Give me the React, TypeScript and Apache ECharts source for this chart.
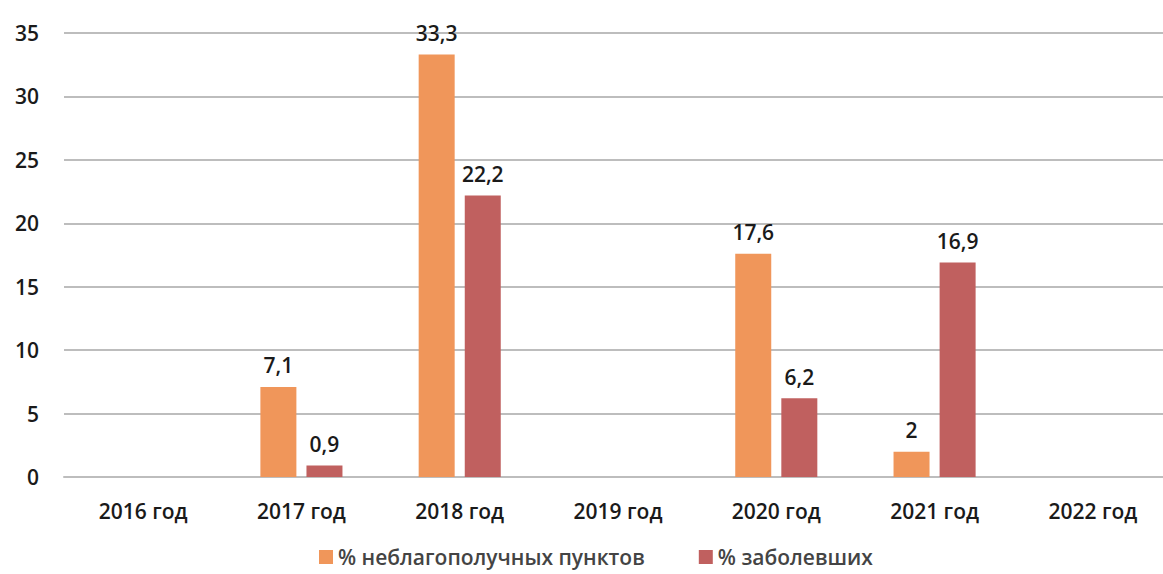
import React, { useEffect, useRef } from "react";
import * as echarts from "echarts";

const categories = ["2016 год", "2017 год", "2018 год", "2019 год", "2020 год", "2021 год", "2022 год"];
const seriesNames = ["% неблагополучных пунктов", "% заболевших"];
const pointsShare: (number | null)[] = [null, 7.1, 33.3, null, 17.6, 2, null];
const sickShare: (number | null)[] = [null, 0.9, 22.2, null, 6.2, 16.9, null];
const colors = ["#F0965A", "#C0605F"];

const FONT = "'Open Sans', 'Noto Sans', sans-serif";

export default function App() {
  const ref = useRef<HTMLDivElement>(null);
  useEffect(() => {
    document.body.style.margin = "0";
    document.body.style.overflow = "hidden";
    const chart = echarts.init(ref.current!, null, { renderer: "svg" });
    const label = {
      show: true,
      position: "top",
      distance: 11,
      color: "#1a1a1a",
      fontSize: 21,
      fontWeight: 600,
      fontFamily: FONT,
      formatter: (p: any) => String(p.value).replace(".", ","),
    };
    chart.setOption({
      animation: false,
      backgroundColor: "#fff",
      color: colors,
      textStyle: { fontFamily: FONT },
      grid: { left: 64, right: 0, top: 33, bottom: 97 },
      legend: {
        top: 544,
        left: 319,
        padding: 0,
        itemWidth: 14,
        itemHeight: 14,
        itemGap: 54,
        icon: "rect",
        textStyle: { color: "#444", fontSize: 21, fontWeight: 600, fontFamily: FONT, lineHeight: 26 },
        data: seriesNames,
      },
      xAxis: {
        type: "category",
        data: categories,
        axisTick: { show: false },
        axisLine: { lineStyle: { color: "#BDBDBD", width: 2 } },
        axisLabel: { color: "#1a1a1a", fontSize: 21, fontWeight: 600, fontFamily: FONT, margin: 23 },
      },
      yAxis: {
        type: "value",
        min: 0,
        max: 35,
        interval: 5,
        axisLine: { show: false },
        axisTick: { show: false },
        splitLine: { lineStyle: { color: "#BDBDBD", width: 2 } },
        axisLabel: { color: "#1a1a1a", fontSize: 21, fontWeight: 600, fontFamily: FONT, margin: 25 },
      },
      series: [
        { name: seriesNames[0], type: "bar", data: pointsShare, barWidth: 36, barGap: "28%", label },
        { name: seriesNames[1], type: "bar", data: sickShare, barWidth: 36, barGap: "28%", label },
      ],
    });
    return () => chart.dispose();
  }, []);
  return <div ref={ref} style={{ width: 1172, height: 574 }} />;
}
